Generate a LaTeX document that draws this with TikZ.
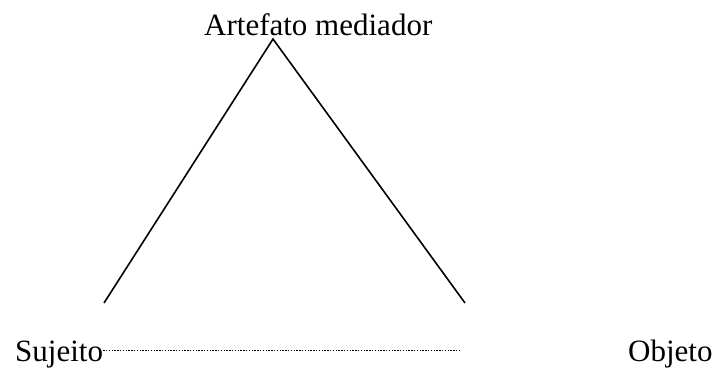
\documentclass[tikz,border=0pt]{standalone}
\usepackage{fontspec}
\setmainfont{Liberation Serif}
\begin{document}
\begin{tikzpicture}[x=1bp,y=-1bp,
  lbl/.style={inner sep=0pt,anchor=base west,font=\fontsize{31bp}{36bp}\selectfont},
  edge/.style={line width=1.6bp,line join=miter},
  dots/.style={line width=0.8bp,dash pattern=on 1.4bp off 1.4bp}]
\useasboundingbox (0,0) rectangle (721,368);
\node[lbl] (art) at (204,35) {Artefato mediador};
\node[lbl] (suj) at (15,361) {Sujeito};
\node[lbl] (obj) at (628,361) {Objeto};
\coordinate (apex) at (273,39);
\coordinate (left) at (104,303);
\coordinate (right) at (465,303);
\coordinate (dotend) at (461,350);
\draw[edge] (left) -- (apex) -- (right);
\draw[dots] (suj.east |- dotend) -- (dotend);
\end{tikzpicture}
\end{document}
